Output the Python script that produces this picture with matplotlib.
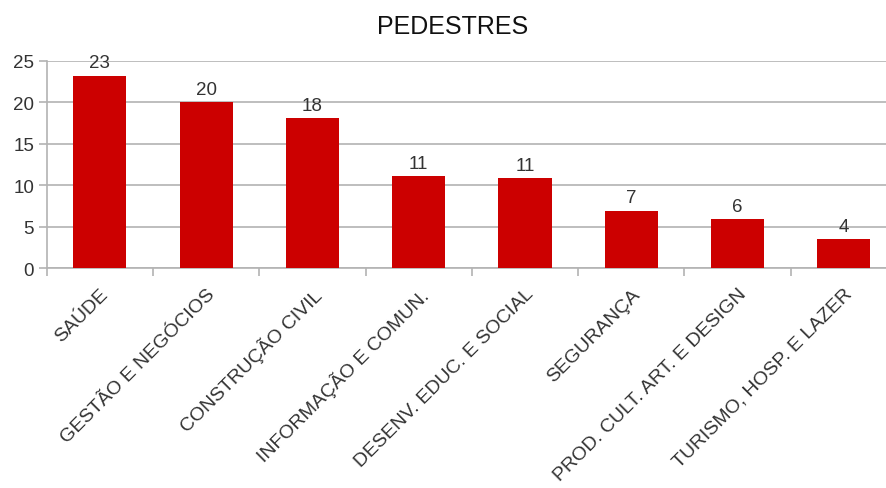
import numpy as np
import matplotlib
matplotlib.use("Agg")
import matplotlib.pyplot as plt
from matplotlib.ticker import FixedLocator

categories = ["SAÚDE", "GESTÃO E NEGÓCIOS", "CONSTRUÇÃO CIVIL", "INFORMAÇÃO E COMUN.",
              "DESENV. EDUC. E SOCIAL", "SEGURANÇA", "PROD. CULT. ART. E DESIGN",
              "TURISMO, HOSP. E LAZER"]
values = [23.2, 20.0, 18.1, 11.15, 10.9, 6.95, 5.9, 3.5]
y_ticks = [0, 5, 10, 15, 20, 25]

plt.rcParams['font.family'] = ['Liberation Sans', 'DejaVu Sans']

bar_color = '#cc0000'
text_color = '#333333'
grid_color = '#b3b3b3'

fig = plt.figure(figsize=(8.86, 4.89), dpi=100)
ax = fig.add_axes([0.0527, 0.449, 0.9597, 0.425])

x = np.arange(len(categories))
ax.bar(x, values, width=0.5, color=bar_color, zorder=3)

# value labels, rounded like the source
for xi, v in zip(x, values):
    ax.annotate(f"{v:.0f}", (xi, v), xytext=(0, 3), textcoords='offset points',
                ha='center', va='bottom', fontsize=13.5, color=text_color)

ax.set_xlim(-0.5, len(categories) - 0.5)
ax.set_ylim(0, 25)
ax.set_yticks(y_ticks)
ax.yaxis.grid(True, color=grid_color, linewidth=1.2, zorder=0)

# category labels at centres, tick marks at boundaries
ax.set_xticks(x)
ax.set_xticklabels(categories, rotation=45, ha='right', rotation_mode='anchor',
                   fontsize=14, color=text_color)
ax.xaxis.set_minor_locator(FixedLocator(np.arange(len(categories) + 1) - 0.5))
ax.tick_params(axis='x', which='major', length=0, pad=12)
ax.tick_params(axis='x', which='minor', length=6, color=grid_color, width=1.2)
ax.tick_params(axis='y', length=6, color=grid_color, width=1.2, labelsize=13.5,
               labelcolor=text_color, pad=3)

for side in ['top', 'right']:
    ax.spines[side].set_visible(False)
for side in ['left', 'bottom']:
    ax.spines[side].set_color(grid_color)
    ax.spines[side].set_linewidth(1.2)

fig.text(0.511, 0.945, "PEDESTRES", ha='center', va='center', fontsize=18, color='#111111')

fig.savefig("out.png", dpi=100)
